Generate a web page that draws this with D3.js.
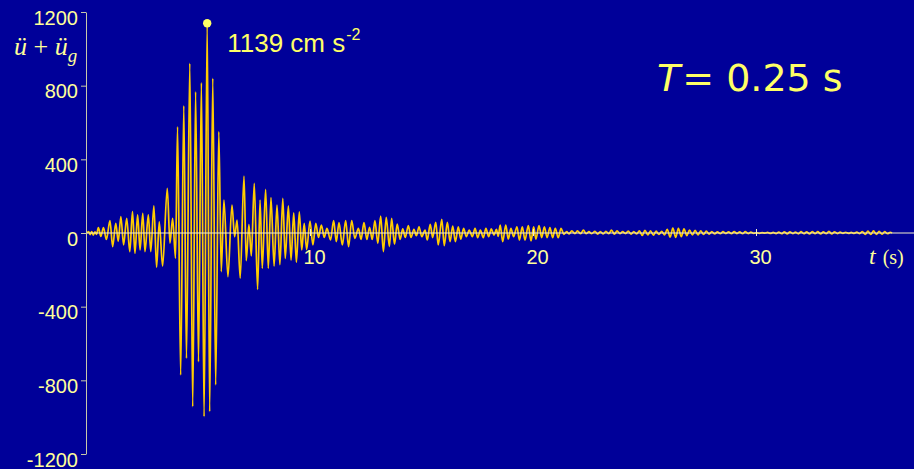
<!DOCTYPE html>
<html>
<head>
<meta charset="utf-8">
<script src="https://cdn.jsdelivr.net/npm/d3@7"></script>
<style>
  html, body { margin: 0; padding: 0; background: #000099; overflow: hidden; }
  svg { display: block; }
</style>
</head>
<body>
<svg id="chart" width="914" height="469"></svg>
<script>
// Total acceleration response (cm/s²) of an SDOF system, T = 0.25 s.
// Each pair is [time (s), local extremum of the response].

// Onset: small oscillations building up
const onset = [
  [0.00, 0], [0.07, 8], [0.14, -9], [0.21, 7], [0.28, -11], [0.36, 6], [0.43, -7],
  [0.51, 29], [0.62, -18], [0.74, 29], [0.87, -35], [1.03, 67], [1.15, -74],
  [1.29, 53], [1.40, -45], [1.52, 89], [1.64, -65], [1.78, 80], [1.92, -101],
  [2.04, 116], [2.15, -110], [2.27, 98], [2.38, -92], [2.50, 107], [2.60, -101],
  [2.75, 98], [2.86, -101], [3.00, 147], [3.12, -187], [3.24, 60], [3.39, -180],
  [3.60, 243], [3.72, -55], [3.84, 80], [3.97, -137]
];

// Strong shaking phase, including the peak response
const strongShaking = [
  [4.06, 577], [4.20, -771], [4.34, 691], [4.46, -680], [4.61, 921], [4.74, -943],
  [4.87, 767], [5.00, -699], [5.13, 816], [5.25, -997], [5.39, 1139], [5.50, -970],
  [5.64, 840], [5.77, -825], [5.91, 550], [6.02, -210], [6.14, 179], [6.32, -237],
  [6.50, 152], [6.62, -20], [6.73, 70], [6.87, -245], [7.04, 309], [7.14, -150],
  [7.26, 45], [7.37, -125], [7.50, 270], [7.65, -306]
];

// Decaying coda
const coda = [
  [7.76, 179], [7.86, -192], [8.01, 237], [8.13, -192], [8.25, 192], [8.39, -180],
  [8.52, 152], [8.65, -172], [8.78, 188], [8.89, -138], [9.03, 147], [9.15, -147],
  [9.27, 110], [9.39, -159], [9.52, 115], [9.63, -92], [9.74, 53], [9.85, -90],
  [10.00, 65], [10.13, -65], [10.26, 53], [10.38, -24], [10.51, 43], [10.64, -24],
  [10.76, 25], [10.92, -38], [11.06, 67], [11.18, -47], [11.30, 56], [11.45, -65],
  [11.60, 67], [11.73, -74], [11.87, 67], [12.01, -29], [12.17, 25], [12.29, -35],
  [12.42, 56], [12.55, -35], [12.67, 31], [12.79, -35], [12.91, 67], [13.04, -56],
  [13.17, 92], [13.29, -101], [13.42, 85], [13.56, -74], [13.66, 79], [13.79, -61],
  [13.91, 49], [14.04, -35], [14.16, 22], [14.27, -24], [14.41, 40], [14.53, -24],
  [14.66, 20], [14.77, -15], [14.89, 34]
];

// Late coda
const lateCoda = [
  [15.01, -20], [15.16, 16], [15.26, -38], [15.39, 47], [15.50, -25], [15.64, 58],
  [15.75, -65], [15.91, 74], [16.02, -69], [16.16, 58], [16.28, -47], [16.40, 38],
  [16.52, -47], [16.65, 34], [16.76, -33], [16.89, 25], [17.01, -20], [17.14, 16],
  [17.28, -20], [17.40, 25], [17.52, -25], [17.64, 16], [17.77, -25], [17.89, 25],
  [18.01, -20], [18.13, 22], [18.25, -11], [18.36, 20], [18.44, -18], [18.53, 43],
  [18.64, -47], [18.78, 43], [18.89, -33], [19.01, 25], [19.13, -20], [19.28, 34],
  [19.39, -38], [19.52, 34], [19.64, -38], [19.79, 40], [19.91, -43], [20.03, 34],
  [20.13, -33], [20.27, 40], [20.39, -25], [20.51, 34], [20.63, -25], [20.76, 29],
  [20.88, -25], [21.00, 25], [21.13, -25], [21.26, 25], [21.38, -7], [21.51, 7],
  [21.61, -5], [21.74, 11], [21.88, -4], [21.99, 11], [22.14, -4], [22.26, 16],
  [22.38, -4], [22.51, 7], [22.63, -4], [22.78, 9], [22.90, -6]
];

// Tail: low-level oscillation to the end of the record
const tail = [
  [23.02, 8], [23.15, -5], [23.27, 9], [23.40, -4], [23.52, 16], [23.65, -6],
  [23.77, 11], [23.90, -4], [24.02, 7], [24.15, -3], [24.27, 10], [24.40, -6],
  [24.52, 8], [24.65, -5], [24.77, 12], [24.90, -13], [25.02, 14], [25.15, -10],
  [25.27, 12], [25.40, -12], [25.52, 10], [25.65, -8], [25.77, 9], [25.90, -10],
  [26.02, 20], [26.15, -22], [26.27, 27], [26.40, -24], [26.52, 25], [26.65, -20],
  [26.77, 22], [26.90, -14], [27.02, 16], [27.15, -10], [27.27, 14], [27.40, -10],
  [27.52, 12], [27.65, -8], [27.77, 10], [27.90, -6], [28.02, 8], [28.15, -5],
  [28.27, 6], [28.40, -4], [28.52, 7], [28.65, -3], [28.77, 6], [28.90, -4],
  [29.02, 8], [29.15, -3], [29.27, 6], [29.40, -4], [29.52, 7], [29.65, -3],
  [29.77, 5], [29.90, -2], [30.02, 2], [30.15, -2], [30.27, 2], [30.40, -1],
  [30.52, 3], [30.65, -2], [30.77, 3], [30.90, -3], [31.02, 5], [31.15, -4],
  [31.27, 6], [31.40, -5], [31.52, 6], [31.65, -3], [31.77, 5], [31.90, -5],
  [32.02, 7], [32.15, -4], [32.27, 6], [32.40, -5], [32.52, 8], [32.65, -4],
  [32.77, 7], [32.90, -5], [33.02, 6], [33.15, -4], [33.27, 9], [33.40, -5],
  [33.52, 6], [33.65, -3], [33.77, 5], [33.90, -2], [34.02, 4], [34.15, -2],
  [34.27, 3], [34.40, -2], [34.52, 5], [34.65, -3], [34.77, 8], [34.90, -7],
  [35.02, 10], [35.15, -8], [35.27, 11], [35.40, -7], [35.52, 9], [35.65, -6],
  [35.77, 7], [35.90, -4], [36.02, 4], [36.10, 0]
];

const yTicks = [-1200, -800, -400, 0, 400, 800, 1200];
const xTicks = [10, 20, 30];

const W = 914, H = 469;
const BG = "#000099";
const TEXT = "#ffff99";
const ACCENT = "#ffff66";
const TRACE = "#ffcc00";
const AXIS = "#c8c8a8";

const svg = d3.select("#chart");
svg.append("rect").attr("width", W).attr("height", H).attr("fill", BG);

const x = d3.scaleLinear().domain([0, 30]).range([87, 756]);
const y = d3.scaleLinear().domain([-1200, 1200]).range([454, 12]);

const series = [...onset, ...strongShaking, ...coda, ...lateCoda, ...tail];

// Response trace
const line = d3.line()
  .x(d => x(d[0]))
  .y(d => y(d[1]))
  .curve(d3.curveMonotoneX);

svg.append("path")
  .datum(series)
  .attr("d", line)
  .attr("fill", "none")
  .attr("stroke", TRACE)
  .attr("stroke-width", 1.7)
  .attr("stroke-linejoin", "round");

// Vertical axis
const plain = d => String(d);
const gy = svg.append("g")
  .attr("transform", "translate(86,0)")
  .call(d3.axisLeft(y).tickValues(yTicks).tickFormat(plain)
    .tickSize(5).tickSizeOuter(0).tickPadding(3));
gy.select(".domain").attr("stroke", AXIS);
gy.selectAll(".tick line").attr("stroke", AXIS);
gy.selectAll(".tick text")
  .attr("fill", TEXT)
  .attr("font-family", "'Liberation Sans', Arial, sans-serif")
  .attr("font-size", 20)
  .attr("dy", "0.6em");

// Time axis along the zero line
svg.append("line")
  .attr("x1", x(0)).attr("x2", W)
  .attr("y1", y(0)).attr("y2", y(0))
  .attr("stroke", "#f4f0cc")
  .attr("stroke-width", 1.2);

const gx = svg.append("g")
  .attr("transform", `translate(0,${y(0)})`)
  .call(d3.axisBottom(x).tickValues(xTicks).tickFormat(plain)
    .tickSize(3).tickPadding(14));
gx.select(".domain").remove();
gx.selectAll(".tick line").attr("y1", -4).attr("y2", 3).attr("stroke", "#f4f0cc");
gx.selectAll(".tick text")
  .attr("fill", TEXT)
  .attr("font-family", "'Liberation Sans', Arial, sans-serif")
  .attr("font-size", 20)
  .attr("dx", 4);

// Axis titles
const yTitle = svg.append("text")
  .attr("x", 14).attr("y", 55)
  .attr("fill", TEXT)
  .attr("font-family", "'Liberation Serif', 'Times New Roman', serif")
  .attr("font-size", 26);
yTitle.append("tspan").attr("font-style", "italic").text("ü");
yTitle.append("tspan").text(" + ");
yTitle.append("tspan").attr("font-style", "italic").text("ü");
yTitle.append("tspan").attr("font-style", "italic").attr("font-size", 19).attr("dy", 7).text("g");

const xTitle = svg.append("text")
  .attr("x", 869).attr("y", 264)
  .attr("fill", TEXT)
  .attr("font-family", "'Liberation Serif', 'Times New Roman', serif");
xTitle.append("tspan").attr("font-style", "italic").attr("font-size", 24).text("t");
xTitle.append("tspan").attr("font-size", 20).attr("dx", 7).text("(s)");

// Peak marker and value
const peak = d3.greatest(series, d => d[1]);
svg.append("circle")
  .attr("cx", x(peak[0])).attr("cy", y(peak[1]))
  .attr("r", 4.2)
  .attr("fill", ACCENT);

const peakLabel = svg.append("text")
  .attr("x", x(peak[0]) + 20).attr("y", 52)
  .attr("fill", ACCENT)
  .attr("font-family", "'Liberation Sans', Arial, sans-serif")
  .attr("font-size", 26);
peakLabel.append("tspan").text(`${peak[1]} cm s`);
peakLabel.append("tspan").attr("font-size", 16).attr("dy", -12).attr("dx", 1).text("-2");

// Period annotation
const periodLabel = svg.append("text")
  .attr("x", 657).attr("y", 91)
  .attr("fill", ACCENT)
  .attr("font-family", "'DejaVu Sans', Verdana, sans-serif")
  .attr("font-size", 38);
periodLabel.append("tspan").attr("font-style", "italic").text("T");
periodLabel.append("tspan").attr("dx", 2).text("= 0.25 s");
</script>
</body>
</html>
